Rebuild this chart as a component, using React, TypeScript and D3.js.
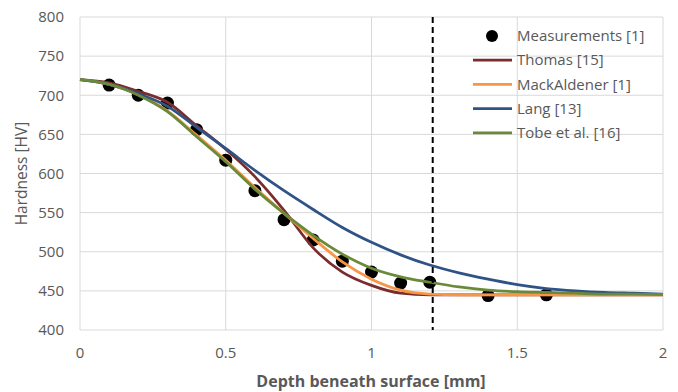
import { useEffect } from 'react';
import * as d3 from 'd3';

const W = 678;
const H = 392;

// depth [mm] of the model curves, every 0.1 mm
const depths = [0, 0.1, 0.2, 0.3, 0.4, 0.5, 0.6, 0.7, 0.8, 0.9, 1.0, 1.1, 1.2, 1.3, 1.4, 1.5, 1.6, 1.7, 1.8, 1.9, 2.0];

const thomas = [720, 716, 705, 691, 661, 631, 596, 553, 505, 474, 457, 447, 445, 445, 445, 445, 445, 445, 445, 445, 445];
const mackAldener = [720, 714, 701, 680, 649, 617, 582, 549, 517, 487, 465, 451, 446, 445, 445, 445, 445, 445, 445, 445, 445];
const lang = [720, 714, 702, 686, 659, 632, 604, 578, 554, 531, 512, 496, 483, 473, 465, 458, 453, 450, 448, 447, 446];
const tobe = [720, 714, 700, 679, 647, 615, 580, 549, 521, 497, 479, 468, 461, 455, 451, 449, 448, 447, 446, 446, 445.5];

const measDepth = [0.1, 0.2, 0.3, 0.4, 0.5, 0.6, 0.7, 0.8, 0.9, 1.0, 1.1, 1.2, 1.4, 1.6];
const measHardness = [713, 700, 690, 656, 617, 578, 541, 515, 488, 474, 460, 461, 444, 445];

const limitDepth = 1.21;

const xTicks = [0, 0.5, 1, 1.5, 2];
const yTicks = [400, 450, 500, 550, 600, 650, 700, 750, 800];

const models = [
  { name: 'Thomas [15]', values: thomas, color: '#7B2D2D' },
  { name: 'MackAldener [1]', values: mackAldener, color: '#F79646' },
  { name: 'Lang [13]', values: lang, color: '#2F5386' },
  { name: 'Tobe et al. [16]', values: tobe, color: '#6A8A3A' },
];

const FONT = '"Open Sans", sans-serif';
const GRAY = '#595959';

export default function App() {
  useEffect(() => {
    document.body.style.margin = '0';
  }, []);

  const x = d3.scaleLinear().domain([0, 2]).range([80, 663]);
  const y = d3.scaleLinear().domain([400, 800]).range([330, 17]);

  const line = d3
    .line<number>()
    .x((_, i) => x(depths[i]))
    .y((d) => y(d))
    .curve(d3.curveMonotoneX);

  const legendX = 473;
  const legendY = 36;
  const legendStep = 24.2;

  return (
    <svg width={W} height={H} style={{ display: 'block', background: '#fff' }} fontFamily={FONT}>
      {/* grid */}
      {yTicks.map((t) => (
        <line key={'h' + t} x1={x(0)} x2={x(2)} y1={y(t)} y2={y(t)} stroke="#D9D9D9" strokeWidth={1} />
      ))}
      {xTicks.map((t) => (
        <line key={'v' + t} x1={x(t)} x2={x(t)} y1={y(400)} y2={y(800)} stroke="#D9D9D9" strokeWidth={1} />
      ))}

      {/* tick labels */}
      {yTicks.map((t) => (
        <text key={'yl' + t} x={64} y={y(t)} dy="0.35em" textAnchor="end" fontSize={15} fill={GRAY}>
          {t}
        </text>
      ))}
      {xTicks.map((t) => (
        <text key={'xl' + t} x={x(t)} y={353} dy="0.35em" textAnchor="middle" fontSize={15} fill={GRAY}>
          {t}
        </text>
      ))}

      {/* measurements, drawn under the lines */}
      {measDepth.map((d, i) => (
        <circle key={'m' + i} cx={x(d)} cy={y(measHardness[i])} r={6.5} fill="#000" />
      ))}

      {models.map((m) => (
        <path key={m.name} d={line(m.values) || ''} fill="none" stroke={m.color} strokeWidth={2.75} />
      ))}

      {/* case depth limit */}
      <line
        x1={x(limitDepth)}
        x2={x(limitDepth)}
        y1={y(800)}
        y2={y(400)}
        stroke="#000"
        strokeWidth={2}
        strokeDasharray="6,4"
      />

      {/* legend */}
      <circle cx={492} cy={legendY} r={6} fill="#000" />
      <text x={517} y={legendY} dy="0.35em" fontSize={15} fill={GRAY}>
        Measurements [1]
      </text>
      {models.map((m, i) => {
        const ly = legendY + legendStep * (i + 1);
        return (
          <g key={'lg' + m.name}>
            <line x1={legendX} x2={512} y1={ly} y2={ly} stroke={m.color} strokeWidth={2.75} />
            <text x={517} y={ly} dy="0.35em" fontSize={15} fill={GRAY}>
              {m.name}
            </text>
          </g>
        );
      })}

      {/* axis titles */}
      <text x={371} y={381} dy="0.35em" textAnchor="middle" fontSize={16} fontWeight="bold" fill={GRAY}>
        Depth beneath surface [mm]
      </text>
      <text
        transform={`translate(22,${(y(400) + y(800)) / 2}) rotate(-90)`}
        dy="0.35em"
        textAnchor="middle"
        fontSize={15.5}
        fill={GRAY}
      >
        Hardness [HV]
      </text>
    </svg>
  );
}
